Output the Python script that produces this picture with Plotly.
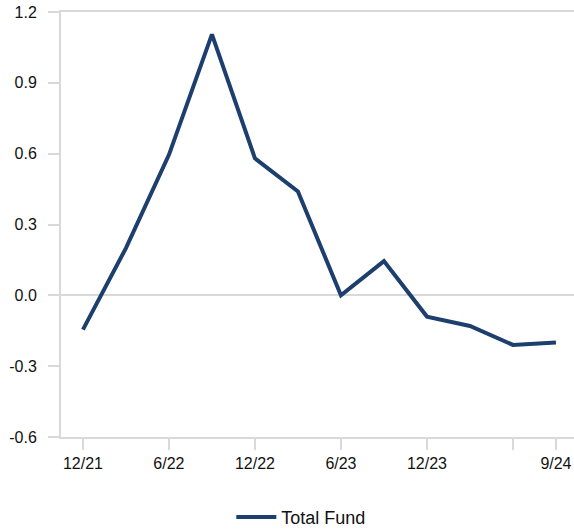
import plotly.graph_objects as go

# quarterly values, 12/21 .. 9/24
quarters = ['12/21', '3/22', '6/22', '9/22', '12/22', '3/23', '6/23',
            '9/23', '12/23', '3/24', '6/24', '9/24']
total_fund = [-0.145, 0.20, 0.595, 1.105, 0.58, 0.44, 0.0,
              0.145, -0.09, -0.13, -0.21, -0.20]

# which quarters get a tick, and the label shown there
tick_idx = [0, 2, 4, 6, 8, 10, 11]
tick_text = ['12/21', '6/22', '12/22', '6/23', '12/23', '', '9/24']

y_ticks = [-0.6, -0.3, 0.0, 0.3, 0.6, 0.9, 1.2]
y_labels = ['-0.6', '-0.3', '0.0', '0.3', '0.6', '0.9', '1.2']

grey = '#d9d9d9'
navy = '#1c3f6e'

fig = go.Figure()
fig.add_trace(go.Scatter(
    x=list(range(len(quarters))), y=total_fund,
    mode='lines', name='Total Fund',
    line=dict(color=navy, width=4),
))

fig.update_layout(
    width=574, height=529,
    margin=dict(l=61, r=0, t=12, b=92, autoexpand=False),
    paper_bgcolor='white', plot_bgcolor='white',
    font=dict(family='Liberation Sans, Arial, sans-serif', size=16, color='#111111'),
    showlegend=True,
    legend=dict(orientation='h', xref='container', x=0.403, xanchor='left',
                yref='container', y=0.022, yanchor='middle',
                itemwidth=40, font=dict(size=18)),
)

fig.update_xaxes(
    range=[-0.51, 11.42], automargin=False,
    tickvals=tick_idx, ticktext=tick_text,
    showgrid=False, zeroline=False,
    showline=True, linecolor=grey, linewidth=2, mirror=True,
    ticks='outside', ticklen=11, tickwidth=2, tickcolor=grey,
)
fig.update_yaxes(
    range=[-0.6, 1.2], automargin=False,
    tickvals=y_ticks, ticktext=y_labels,
    showgrid=False,
    zeroline=True, zerolinecolor=grey, zerolinewidth=2,
    showline=True, linecolor=grey, linewidth=2,
    ticks='outside', ticklen=11, tickwidth=2, tickcolor=grey,
    ticklabelstandoff=8,
)

# drop the page's default body margin so the chart sits at the window corner
fig.write_html("out.html", config={'displayModeBar': False},
               post_script="document.body.style.margin='0';")
